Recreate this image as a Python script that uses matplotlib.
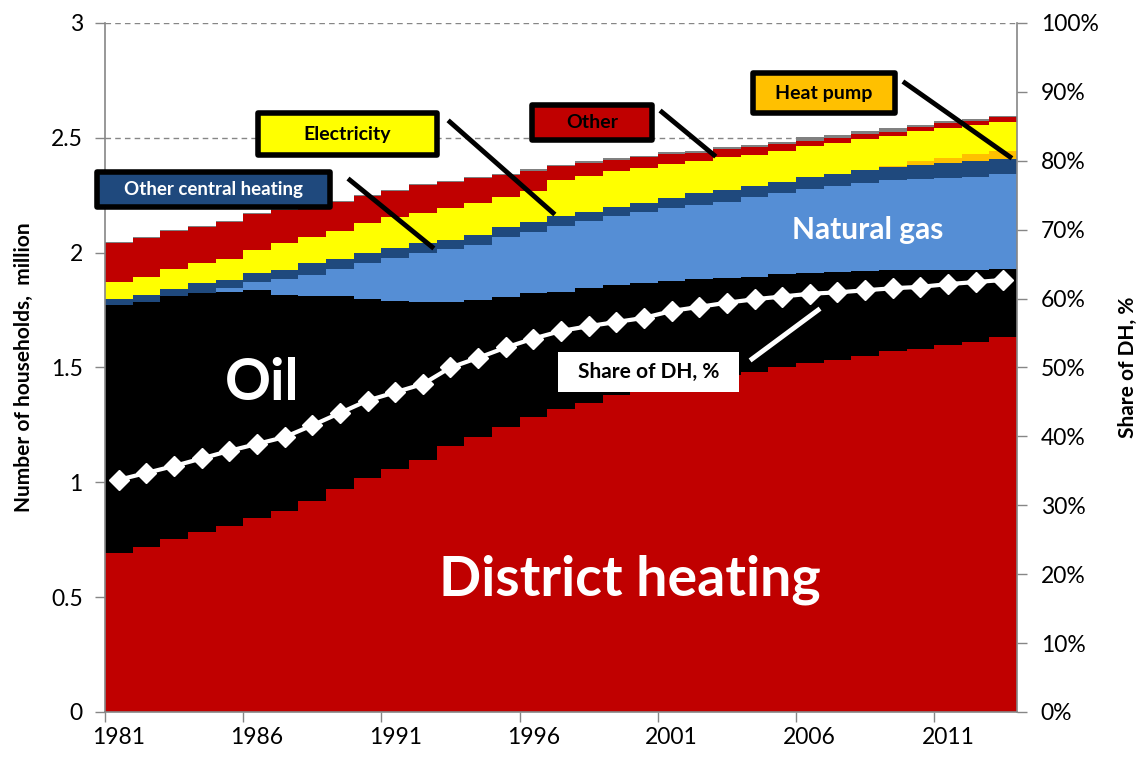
import numpy as np
import matplotlib.pyplot as plt
from matplotlib.patches import Rectangle
from matplotlib.lines import Line2D

plt.rcParams['font.family'] = ['Lato', 'DejaVu Sans']

years = list(range(1981, 2014))

# million households
district_heating = [0.694, 0.720, 0.753, 0.785, 0.810, 0.843, 0.875, 0.920, 0.971, 1.017,
                    1.058, 1.095, 1.158, 1.199, 1.242, 1.283, 1.321, 1.347, 1.380, 1.400,
                    1.425, 1.450, 1.468, 1.482, 1.501, 1.518, 1.533, 1.551, 1.572, 1.579,
                    1.597, 1.610, 1.632]
oil = [1.078, 1.067, 1.058, 1.038, 1.017, 0.994, 0.941, 0.892, 0.841, 0.781,
       0.733, 0.692, 0.629, 0.595, 0.566, 0.543, 0.509, 0.498, 0.479, 0.466,
       0.452, 0.434, 0.420, 0.413, 0.406, 0.395, 0.384, 0.371, 0.352, 0.345,
       0.327, 0.314, 0.296]
natural_gas = [0.000, 0.000, 0.000, 0.000, 0.018, 0.037, 0.068, 0.091, 0.117, 0.158,
               0.184, 0.213, 0.228, 0.239, 0.259, 0.265, 0.286, 0.293, 0.302, 0.312,
               0.319, 0.323, 0.334, 0.346, 0.351, 0.363, 0.373, 0.380, 0.392, 0.397,
               0.402, 0.407, 0.414]
other_central = [0.026, 0.029, 0.029, 0.044, 0.036, 0.039, 0.040, 0.050, 0.042, 0.044,
                 0.044, 0.044, 0.040, 0.043, 0.043, 0.044, 0.044, 0.040, 0.039, 0.040,
                 0.040, 0.051, 0.051, 0.049, 0.051, 0.052, 0.052, 0.058, 0.059, 0.061,
                 0.063, 0.068, 0.064]
heat_pump = [0.0] * 28 + [0.004, 0.017, 0.025, 0.029, 0.038]
electricity = [0.073, 0.080, 0.087, 0.086, 0.093, 0.099, 0.120, 0.117, 0.125, 0.128,
               0.135, 0.130, 0.138, 0.139, 0.134, 0.135, 0.156, 0.156, 0.157, 0.149,
               0.150, 0.141, 0.142, 0.135, 0.135, 0.136, 0.137, 0.134, 0.129, 0.132,
               0.130, 0.126, 0.125]
other = [0.170, 0.166, 0.167, 0.160, 0.159, 0.156, 0.142, 0.133, 0.126, 0.119,
         0.116, 0.121, 0.116, 0.109, 0.094, 0.087, 0.061, 0.058, 0.046, 0.048,
         0.044, 0.036, 0.036, 0.034, 0.028, 0.024, 0.019, 0.021, 0.018, 0.017,
         0.022, 0.021, 0.020]
unknown = [0.004] * 11 + [0.005] * 6 + [0.007] * 5 + [0.008, 0.010, 0.011, 0.014, 0.013,
                                                     0.015, 0.015, 0.008, 0.009, 0.006, 0.006]

# share of district heating, %
share_dh = [33.7, 34.7, 35.7, 36.8, 37.9, 38.9, 39.9, 41.6, 43.4, 45.2,
            46.4, 47.6, 50.0, 51.4, 52.9, 54.2, 55.3, 56.0, 56.6, 57.2,
            58.2, 58.8, 59.4, 59.9, 60.3, 60.7, 60.9, 61.2, 61.5, 61.7,
            62.1, 62.4, 62.7]

layers = [
    (district_heating, '#C00000'),
    (oil, '#000000'),
    (natural_gas, '#558ED5'),
    (other_central, '#1F497D'),
    (heat_pump, '#FFC000'),
    (electricity, '#FFFF00'),
    (other, '#C00000'),
    (unknown, '#808080'),
]

fig = plt.figure(figsize=(11.45, 7.58), dpi=100)
ax = fig.add_axes([0.0917, 0.0607, 0.7966, 0.909])
x = np.arange(len(years))
edges = np.arange(len(years) + 1)

# gapless columns drawn as step fills (no seams between neighbouring years)
bottom = np.zeros(len(years))
for vals, col in layers:
    top = bottom + np.array(vals)
    ax.fill_between(edges, np.append(bottom, bottom[-1]), np.append(top, top[-1]),
                    step='post', color=col, linewidth=0, zorder=2)
    bottom = top

grey = '#868686'
ax.set_xlim(0, len(years))
ax.set_ylim(0, 3)
ax.set_yticks(np.arange(0, 3.01, 0.5))
ax.set_yticklabels(['0', '0.5', '1', '1.5', '2', '2.5', '3'])
ax.yaxis.grid(True, linestyle=(0, (4, 3)), color=grey, linewidth=1, zorder=0)
ax.set_axisbelow(True)
ax.set_xticks(np.arange(0, len(years), 5))
ax.set_xticklabels([])
ax.set_xticks(np.arange(0.5, len(years), 5), minor=True)
ax.set_xticklabels([str(y) for y in years[::5]], minor=True)
ax.tick_params(axis='x', which='major', length=7, color=grey, width=1)
ax.tick_params(axis='x', which='minor', length=0, pad=11, labelsize=16.5)
ax.tick_params(axis='y', length=7, color=grey, width=1, labelsize=16.5, pad=9)
for s in ['left', 'bottom', 'right']:
    ax.spines[s].set_color(grey)
    ax.spines[s].set_linewidth(1.2)
ax.spines['top'].set_visible(False)
ax.set_ylabel('Number of households,  million', fontsize=15, fontweight='bold', labelpad=12)

ax2 = ax.twinx()
ax2.set_ylim(0, 100)
ax2.set_yticks(np.arange(0, 101, 10))
ax2.set_yticklabels([f'{v}%' for v in range(0, 101, 10)])
ax2.tick_params(axis='y', length=7, color=grey, width=1, labelsize=16.5, pad=10)
for s in ['left', 'bottom', 'right', 'top']:
    ax2.spines[s].set_visible(False)
ax2.set_ylabel('Share of DH, %', fontsize=15, fontweight='bold', labelpad=14)
ax2.plot(x + 0.5, share_dh, color='white', linewidth=3, marker='D', markersize=10.5,
         markerfacecolor='white', markeredgecolor='white', zorder=5, clip_on=False)

# big in-chart labels
ax2.text(19.0, 0.575, 'District heating', transform=ax.transData, color='white',
         fontsize=40, fontweight='bold', ha='center', va='center', zorder=6)
ax2.text(5.68, 1.43, 'Oil', transform=ax.transData, color='white',
         fontsize=41, fontweight='bold', ha='center', va='center', zorder=6)
ax2.text(27.6, 2.10, 'Natural gas', transform=ax.transData, color='white',
         fontsize=21.5, fontweight='bold', ha='center', va='center', zorder=6)

# callout boxes: (text, x0, x1, y0, y1, face, textcolor, edge, size)
callouts = [
    ('Other central heating', -0.29, 8.14, 2.199, 2.351, '#1F497D', 'white', 'black', 13.5),
    ('Electricity', 5.54, 12.01, 2.425, 2.608, '#FFFF00', 'black', 'black', 14),
    ('Other', 15.45, 19.79, 2.491, 2.643, '#C00000', 'black', 'black', 14),
    ('Heat pump', 23.44, 28.58, 2.608, 2.782, '#FFC000', 'black', 'black', 14),
    ('Share of DH, %', 16.39, 22.94, 1.393, 1.567, 'white', 'black', None, 15),
]
for txt, x0, x1, y0, y1, face, tc, edge, fs in callouts:
    r = Rectangle((x0, y0), x1 - x0, y1 - y0, transform=ax.transData,
                  facecolor=face, edgecolor=edge if edge else 'none',
                  linewidth=4 if edge else 0, joinstyle='round', zorder=7, clip_on=False)
    ax2.add_patch(r)
    ax2.text((x0 + x1) / 2, (y0 + y1) / 2, txt, transform=ax.transData, color=tc,
             fontsize=fs, fontweight='bold', ha='center', va='center', zorder=8)

pointers = [
    ((8.86, 11.83), (2.316, 2.025), 'black'),
    ((12.48, 16.21), (2.569, 2.173), 'black'),
    ((20.15, 22.03), (2.612, 2.425), 'black'),
    ((28.94, 32.74), (2.739, 2.417), 'black'),
    ((25.80, 23.41), (1.750, 1.537), 'white'),
]
for xs, ys, col in pointers:
    ax2.add_line(Line2D(xs, ys, transform=ax.transData, color=col, linewidth=3.5,
                        zorder=7, clip_on=False))

fig.savefig('out.png', dpi=100)
